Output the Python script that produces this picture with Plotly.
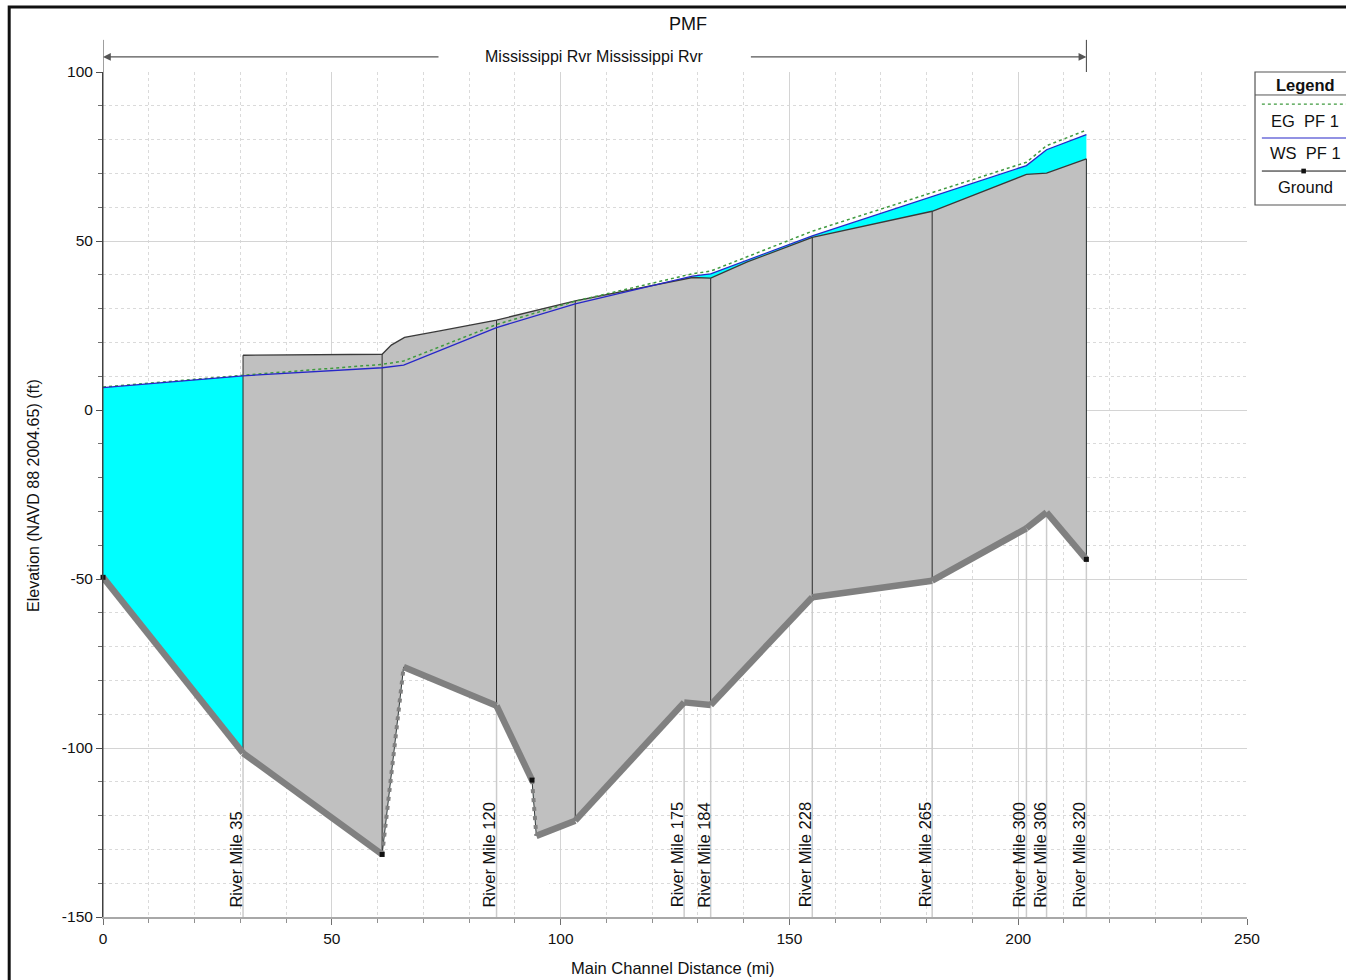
import numpy as np
import plotly.graph_objects as go

# ---------------- data ----------------
ground_x = [0.0, 30.6, 61.0, 65.7, 86.0, 93.75, 94.7, 103.2, 127.0, 132.8, 155.0, 181.2, 201.8, 206.2, 214.9]
ground_y = [-49.5, -101.5, -131.5, -76.0, -87.5, -109.5, -126.0, -121.5, -86.5, -87.3, -55.4, -50.5, -35.0, -30.3, -44.2]

bank_x = [30.6, 61.0, 63.0, 65.9, 73.6, 86.0, 103.2, 128.8, 132.8, 140.8, 155.0, 181.2, 201.8, 206.2, 214.9]
bank_y = [16.2, 16.5, 19.2, 21.5, 23.4, 26.6, 32.3, 39.2, 39.0, 43.8, 51.1, 58.8, 69.7, 70.1, 74.3]

ws_x = [0.0, 30.6, 61.0, 65.7, 86.0, 103.2, 128.8, 132.8, 155.0, 181.2, 201.8, 206.2, 214.9]
ws_y = [6.6, 10.1, 12.5, 13.3, 24.4, 31.4, 39.6, 40.3, 51.5, 63.2, 72.3, 77.0, 81.5]
eg_y = [6.8, 10.3, 13.5, 14.5, 25.3, 32.2, 40.3, 41.1, 52.9, 64.4, 73.3, 78.2, 82.8]

section_x = [30.6, 61.0, 86.0, 103.2, 132.8, 155.0, 181.2, 214.9]

rm_labels = ["River Mile 35", "River Mile 120", "River Mile 175", "River Mile 184",
             "River Mile 228", "River Mile 265", "River Mile 300", "River Mile 306",
             "River Mile 320"]
rm_x = [30.6, 86.0, 127.0, 132.8, 155.0, 181.2, 201.8, 206.2, 214.9]

x_ticks = [0, 50, 100, 150, 200, 250]
x_ticktext = ["0", "50", "100", "150", "200", "250"]
y_ticks = [-150, -100, -50, 0, 50, 100]
y_ticktext = ["-150", "-100", "-50", "0", "50", "100"]

title_text = "PMF"
reach_text = "Mississippi Rvr Mississippi Rvr"
x_title = "Main Channel Distance (mi)"
y_title = "Elevation (NAVD 88 2004.65) (ft)"
legend_title = "Legend"
legend_items = ["EG  PF 1", "WS  PF 1", "Ground"]

# ---------------- derived ----------------
gx = np.array(ground_x)
gy = np.array(ground_y)
bx = np.array(bank_x)
by = np.array(bank_y)
YMIN, YMAX = y_ticks[0], y_ticks[-1]

FONT = "Liberation Sans, Arial, sans-serif"
TXT = "#111111"
CYAN = "#00ffff"
GRAY_FILL = "#c0c0c0"
GROUND_COL = "#808080"

fig = go.Figure()

# water (cyan) between ground and water surface
fig.add_trace(go.Scatter(
    x=list(gx) + ws_x[::-1], y=list(gy) + ws_y[::-1],
    fill="toself", fillcolor=CYAN, mode="lines", line=dict(width=0),
    hoverinfo="skip"))

# gray body between ground and bank line
sel = gx >= bx[0]
fig.add_trace(go.Scatter(
    x=list(gx[sel]) + list(bx[::-1]), y=list(gy[sel]) + list(by[::-1]),
    fill="toself", fillcolor=GRAY_FILL, mode="lines", line=dict(width=0),
    hoverinfo="skip"))

# light station lines below ground
sx, sy = [], []
for x in rm_x:
    sx += [x, x, None]
    sy += [YMIN, float(np.interp(x, gx, gy)), None]
fig.add_trace(go.Scatter(x=sx, y=sy, mode="lines",
                         line=dict(color="#cccccc", width=1.5), hoverinfo="skip"))

# cross-section vertical lines in the gray body
vx, vy = [], []
for x in section_x:
    vx += [x, x, None]
    vy += [float(np.interp(x, gx, gy)), float(np.interp(x, bx, by)), None]
fig.add_trace(go.Scatter(x=vx, y=vy, mode="lines",
                         line=dict(color="#2a2a2a", width=1), hoverinfo="skip"))

# bank / top line
fig.add_trace(go.Scatter(x=bank_x, y=bank_y, mode="lines",
                         line=dict(color="#3a3a3a", width=1.3), hoverinfo="skip"))

# EG and WS
fig.add_trace(go.Scatter(x=ws_x, y=eg_y, mode="lines",
                         line=dict(color="#3f9a3f", width=1.5, dash="dot"), hoverinfo="skip"))
fig.add_trace(go.Scatter(x=ws_x, y=ws_y, mode="lines",
                         line=dict(color="#2626c8", width=1.3), hoverinfo="skip"))

# ground: solid segments and dotted steep segments
slopes = np.abs(np.diff(gy) / np.diff(gx))
steep = slopes > 5
solid_x, solid_y, dot_x, dot_y = [], [], [], []
mk_idx = {0, len(gx) - 1}
for i in range(len(gx) - 1):
    if steep[i]:
        dot_x += [gx[i], gx[i + 1], None]
        dot_y += [gy[i], gy[i + 1], None]
        mk_idx.add(i)
    else:
        solid_x += [gx[i], gx[i + 1], None]
        solid_y += [gy[i], gy[i + 1], None]
fig.add_trace(go.Scatter(x=dot_x, y=dot_y, mode="lines",
                         line=dict(color="#3a3a3a", width=1), hoverinfo="skip"))
fig.add_trace(go.Scatter(x=dot_x, y=dot_y, mode="lines",
                         line=dict(color=GROUND_COL, width=4, dash="4px,5px"), hoverinfo="skip"))
fig.add_trace(go.Scatter(x=solid_x, y=solid_y, mode="lines",
                         line=dict(color=GROUND_COL, width=6.5), hoverinfo="skip"))
mk = sorted(mk_idx)
fig.add_trace(go.Scatter(x=gx[mk], y=gy[mk], mode="markers", cliponaxis=False,
                         marker=dict(symbol="square", size=5, color="#111111"),
                         hoverinfo="skip"))

# ---------------- annotations ----------------
ann = []
for lab, x in zip(rm_labels, rm_x):
    ann.append(dict(x=x, y=YMIN + 2.2, xref="x", yref="y", text=lab, textangle=-90,
                    showarrow=False, xanchor="right", yanchor="bottom",
                    xshift=4, font=dict(family=FONT, size=16.5, color=TXT)))

def paper_text(x, y, text, size, angle=0):
    return dict(x=x, y=y, xref="paper", yref="paper", text=text, textangle=angle,
                showarrow=False, xanchor="center", yanchor="middle",
                font=dict(family=FONT, size=size, color=TXT))

ann.append(paper_text(0.511, 1.0568, title_text, 18))
ann.append(paper_text(0.429, 1.0178, reach_text, 16))
# reach arrows
ann.append(dict(x=ground_x[0], y=1.0178, xref="x", yref="paper", ax=337, ay=0,
                axref="pixel", ayref="pixel", text="", showarrow=True,
                arrowhead=2, arrowsize=1.2, arrowwidth=1.3, arrowcolor="#555555"))
ann.append(dict(x=ground_x[-1], y=1.0178, xref="x", yref="paper", ax=-337, ay=0,
                axref="pixel", ayref="pixel", text="", showarrow=True,
                arrowhead=2, arrowsize=1.2, arrowwidth=1.3, arrowcolor="#555555"))

ann.append(paper_text(0.498, -0.0604, x_title, 16.5))
ann.append(paper_text(-0.0612, 0.4994, y_title, 16, angle=-90))

# legend texts
LX0, LX1 = 1.007, 1.10
ann.append(paper_text(1.0507, 0.9846, "<b>" + legend_title + "</b>", 16.5))
for txt, yy in zip(legend_items, [0.942, 0.9041, 0.8639]):
    ann.append(paper_text(1.0507, yy, txt, 16.5))

# ---------------- shapes ----------------
shapes = []
# white patch (artifact in the reference under the RM 120 label)
shapes.append(dict(type="rect", xref="x", yref="y", x0=90.6, x1=97.5, y0=YMIN, y1=-124,
                   fillcolor="white", line=dict(width=0), layer="between"))
# extended y-axis line and reach end tick
shapes.append(dict(type="line", xref="x", yref="paper", x0=0, x1=0, y0=0, y1=1.038,
                   line=dict(color="#404040", width=1)))
shapes.append(dict(type="line", xref="x", yref="paper", x0=ground_x[-1], x1=ground_x[-1],
                   y0=1.0, y1=1.038, line=dict(color="#404040", width=1)))
# legend box
shapes.append(dict(type="rect", xref="paper", yref="paper", x0=LX0, x1=LX1, y0=0.8426, y1=1.0,
                   line=dict(color="#555555", width=1.2), fillcolor="white", layer="below"))
shapes.append(dict(type="line", xref="paper", yref="paper", x0=LX0, x1=LX1, y0=0.9728, y1=0.9728,
                   line=dict(color="#555555", width=1)))
shapes.append(dict(type="line", xref="paper", yref="paper", x0=1.013, x1=LX1, y0=0.9621, y1=0.9621,
                   line=dict(color="#3f9a3f", width=1.3, dash="dot")))
shapes.append(dict(type="line", xref="paper", yref="paper", x0=1.013, x1=LX1, y0=0.9219, y1=0.9219,
                   line=dict(color="#2626c8", width=1.2)))
shapes.append(dict(type="line", xref="paper", yref="paper", x0=1.013, x1=LX1, y0=0.8828, y1=0.8828,
                   line=dict(color="#111111", width=1)))
shapes.append(dict(type="rect", xref="paper", yref="paper", x0=1.0475, x1=1.0515, y0=0.8800, y1=0.8856,
                   line=dict(width=0), fillcolor="#111111"))
# outer frame
shapes.append(dict(type="rect", xref="paper", yref="paper", x0=-0.082, x1=1.3, y0=-0.3, y1=1.077,
                   line=dict(color="#111111", width=3)))

fig.update_layout(
    width=1346, height=980,
    margin=dict(l=103, r=99, t=72, b=63),
    plot_bgcolor="white", paper_bgcolor="white",
    showlegend=False,
    font=dict(family=FONT, size=14, color=TXT),
    annotations=ann, shapes=shapes,
    xaxis=dict(range=[x_ticks[0], x_ticks[-1]], tickvals=x_ticks, ticktext=x_ticktext,
               showgrid=True, gridcolor="#d4d4d4", gridwidth=1, zeroline=False,
               ticks="outside", ticklen=6, tickcolor="#707070",
               showline=True, linecolor="#a8a8a8", linewidth=2,
               tickfont=dict(family=FONT, size=15.5, color=TXT),
               minor=dict(dtick=10, showgrid=True, gridcolor="#dadada", griddash="3px,3px",
                          ticks="outside", ticklen=4, tickcolor="#909090")),
    yaxis=dict(range=[YMIN, YMAX], tickvals=y_ticks, ticktext=y_ticktext,
               showgrid=True, gridcolor="#d4d4d4", gridwidth=1, zeroline=False,
               ticks="outside", ticklen=6, tickcolor="#505050",
               showline=True, linecolor="#404040", linewidth=1,
               tickfont=dict(family=FONT, size=15.5, color=TXT),
               minor=dict(dtick=10, showgrid=True, gridcolor="#dadada", griddash="3px,3px",
                          ticks="outside", ticklen=4, tickcolor="#707070")),
)

fig.write_html("out.html", config={"displayModeBar": False},
               post_script="document.body.style.margin='0px';document.body.style.overflow='hidden';")
